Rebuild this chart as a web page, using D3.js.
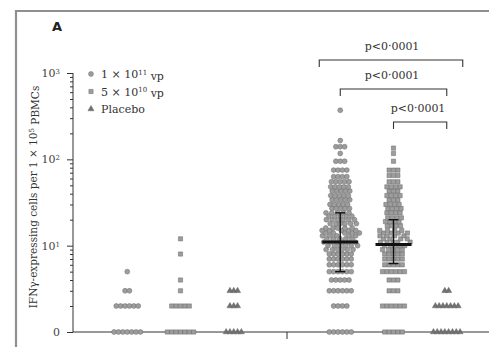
<!DOCTYPE html>
<html>
<head>
<meta charset="utf-8">
<script src="https://cdn.jsdelivr.net/npm/d3@7"></script>
<style>
  body { margin: 0; background: #fff; }
  text { font-family: "DejaVu Serif", serif; fill: #333; }
</style>
</head>
<body>
<div id="chart"></div>
<script>
// timepoints (left and right groups) and doses (columns inside each group)
let timepoints = ["Baseline", "After vaccination"]
let doses = ["1×10¹¹ vp", "5×10¹⁰ vp", "Placebo"]

// [value, number of participants]
let highDoseBaseline = [[0, 7], [2, 6], [3, 2], [5, 1]]
let midDoseBaseline = [[0, 7], [2, 5], [3, 1], [4, 1], [8, 1], [12, 1]]
let placeboBaseline = [[0, 5], [2, 3], [3, 3]]
let highDosePost = [[0, 6], [2, 4], [3, 6], [4, 5], [5, 6], [6, 6], [7, 6], [8, 6], [9, 6], [10, 6],
    [11, 6], [12, 5], [13, 5], [14, 5], [15, 5], [16, 5], [18, 6], [20, 6], [22, 5], [24, 5],
    [27, 5], [30, 5], [34, 5], [38, 5], [43, 5], [48, 5], [55, 5], [63, 4], [75, 4], [95, 3],
    [117, 1], [140, 3], [165, 1], [370, 1]]
let midDosePost = [[0, 5], [2, 6], [3, 3], [4, 3], [5, 6], [6, 5], [7, 5], [8, 5], [9, 5], [10, 5],
    [11, 5], [12, 4], [13, 4], [14, 4], [15, 4], [17, 4], [19, 4], [21, 4], [24, 4], [27, 4],
    [30, 4], [34, 3], [38, 4], [43, 3], [48, 4], [55, 3], [65, 3], [75, 3], [95, 1], [117, 1], [135, 1]]
let placeboPost = [[0, 8], [2, 7], [3, 2]]

// median and interquartile range for the two vaccine groups after vaccination
let medians = [11, 10.3]
let lowerQuartiles = [5, 6.2]
let upperQuartiles = [24, 20]

let majorTicks = [1, 10, 100, 1000]
let majorLabels = ["0", "1", "2", "3"]
let pLabel = "p<0·0001"

let width = 489, height = 347

let svg = d3.select("#chart").append("svg")
    .attr("width", width)
    .attr("height", height)

// panel frame
svg.append("path")
    .attr("d", "M16,347 V11 H489")
    .attr("fill", "none")
    .attr("stroke", "#8f8f8f")
    .attr("stroke-width", 2.2)

svg.append("text")
    .attr("x", 52).attr("y", 31)
    .style("font-family", "DejaVu Sans, sans-serif")
    .style("font-size", "13px")
    .style("font-weight", "bold")
    .style("fill", "#222")
    .text("A")

let y = d3.scaleLog().domain([1, 1000]).range([332, 73])
let yv = v => y(Math.max(v, 1))   // zero plotted on the bottom line

let xGroup = d3.scaleBand().domain(timepoints).range([74, 500])
let xDose = d3.scalePoint().domain(doses).range([0, xGroup.bandwidth()]).padding(1)
let colX = (t, d) => xGroup(t) + xDose(d)

// y axis, minor then major ticks
let minorTicks = []
for (let k of [1, 10, 100]) for (let m = 2; m <= 9; m++) minorTicks.push(k * m)

let axisX = 73
svg.append("g")
    .attr("transform", `translate(${axisX},0)`)
    .call(d3.axisLeft(y).tickValues(minorTicks).tickSize(3).tickFormat(""))
    .call(g => g.select(".domain").remove())
    .selectAll("line").attr("stroke", "#333")

let yAxis = svg.append("g")
    .attr("transform", `translate(${axisX},0)`)
    .call(d3.axisLeft(y).tickValues(majorTicks).tickSize(6).tickPadding(7))
yAxis.select(".domain").attr("stroke", "#333").attr("d", `M0,${y(1)}V${y(1000)}`)
yAxis.selectAll("line").attr("stroke", "#333")
yAxis.selectAll("text")
    .style("font-family", "DejaVu Serif, serif")
    .style("font-size", "11px")
    .style("fill", "#444")
    .each(function(d, i) {
        let t = d3.select(this).text("")
        if (d === 1) { t.text("0"); return }
        t.append("tspan").text("10")
        t.append("tspan").attr("dy", "-0.45em").style("font-size", "7px").text(majorLabels[i])
    })

// x axis line and group separator
svg.append("line")
    .attr("x1", axisX).attr("x2", width)
    .attr("y1", y(1)).attr("y2", y(1))
    .attr("stroke", "#333")
svg.append("line")
    .attr("x1", xGroup(timepoints[1])).attr("x2", xGroup(timepoints[1]))
    .attr("y1", y(1)).attr("y2", y(1) + 7)
    .attr("stroke", "#333")

// y axis title
let title = svg.append("text")
    .attr("transform", "translate(37,197) rotate(-90)")
    .attr("text-anchor", "middle")
    .style("font-size", "10.5px")
title.append("tspan").text("IFNγ-expressing cells per 1 × 10")
title.append("tspan").attr("dy", "-0.45em").style("font-size", "7px").text("5")
title.append("tspan").attr("dy", "0.45em").text(" PBMCs")

// beeswarm: points pinned to their value, collisions push them sideways
let swarm = function(pairs, cx, gap) {
    let pts = []
    pairs.forEach(([v, n]) => {
        for (let i = 0; i < n; i++) {
            let ty = yv(v)
            pts.push({v: v, fy: ty, y: ty, x: cx + (i - (n - 1) / 2) * gap})
        }
    })
    let sim = d3.forceSimulation(pts)
        .force("x", d3.forceX(cx).strength(0.05))
        .force("collide", d3.forceCollide(gap / 2).iterations(2))
        .stop()
    for (let i = 0; i < 300; i++) sim.tick()
    return pts
}

let markerFill = "#9d9d9d", markerStroke = "#6a6a6a"
let shapes = {
    "1×10¹¹ vp": d3.symbol().type(d3.symbolCircle).size(19)(),
    "5×10¹⁰ vp": d3.symbol().type(d3.symbolSquare).size(18)(),
    "Placebo": d3.symbol().type(d3.symbolTriangle).size(16)()
}

let columns = [
    [timepoints[0], doses[0], highDoseBaseline],
    [timepoints[0], doses[1], midDoseBaseline],
    [timepoints[0], doses[2], placeboBaseline],
    [timepoints[1], doses[0], highDosePost],
    [timepoints[1], doses[1], midDosePost],
    [timepoints[1], doses[2], placeboPost]
]

columns.forEach(([t, d, pairs]) => {
    let pts = swarm(pairs, colX(t, d), d === "Placebo" ? 3.8 : 4.4)
    svg.append("g").selectAll("path")
        .data(pts)
        .enter()
        .append("path")
            .attr("d", shapes[d])
            .attr("transform", p => `translate(${p.x},${p.y})`)
            .attr("fill", d === "Placebo" ? "#707070" : markerFill)
            .attr("stroke", markerStroke)
            .attr("stroke-width", 0.5)
})

// median and IQR
doses.slice(0, 2).forEach((d, i) => {
    let cx = colX(timepoints[1], d)
    let g = svg.append("g").attr("stroke", "#111")
    g.append("line").attr("x1", cx).attr("x2", cx)
        .attr("y1", y(lowerQuartiles[i])).attr("y2", y(upperQuartiles[i])).attr("stroke-width", 1.4)
    ;[lowerQuartiles[i], upperQuartiles[i]].forEach(q => {
        g.append("line").attr("x1", cx - 5).attr("x2", cx + 5)
            .attr("y1", y(q)).attr("y2", y(q)).attr("stroke-width", 1.4)
    })
    g.append("line").attr("x1", cx - 18).attr("x2", cx + 18)
        .attr("y1", y(medians[i])).attr("y2", y(medians[i])).attr("stroke-width", 3)
})

// significance brackets
let brackets = [
    {x1: colX(timepoints[1], doses[0]) - 21, x2: colX(timepoints[1], doses[2]) + 16, y: 60, lx: 392},
    {x1: colX(timepoints[1], doses[0]), x2: colX(timepoints[1], doses[2]), y: 89, lx: 392},
    {x1: colX(timepoints[1], doses[1]), x2: colX(timepoints[1], doses[2]), y: 122, lx: 418}
]
brackets.forEach(b => {
    svg.append("path")
        .attr("d", `M${b.x1},${b.y + 7}V${b.y}H${b.x2}V${b.y + 7}`)
        .attr("fill", "none")
        .attr("stroke", "#333")
        .attr("stroke-width", 1.1)
    svg.append("text")
        .attr("x", b.lx).attr("y", b.y - 10)
        .attr("text-anchor", "middle")
        .style("font-size", "11px")
        .text(pLabel)
})

// legend
let legend = svg.append("g").selectAll("g")
    .data(doses)
    .enter()
    .append("g")
    .attr("transform", (d, i) => `translate(91,${74 + i * 17.5})`)
legend.append("path")
    .attr("d", d => shapes[d])
    .attr("fill", d => d === "Placebo" ? "#707070" : markerFill)
    .attr("stroke", markerStroke)
    .attr("stroke-width", 0.5)
legend.append("text")
    .attr("x", 10).attr("y", 4)
    .style("font-size", "11px")
    .each(function(d) {
        let t = d3.select(this)
        if (d === "Placebo") { t.text(d); return }
        let parts = d === doses[0] ? ["1 × 10", "11"] : ["5 × 10", "10"]
        t.append("tspan").text(parts[0])
        t.append("tspan").attr("dy", "-0.45em").style("font-size", "7px").text(parts[1])
        t.append("tspan").attr("dy", "0.45em").text(" vp")
    })
</script>
</body>
</html>
